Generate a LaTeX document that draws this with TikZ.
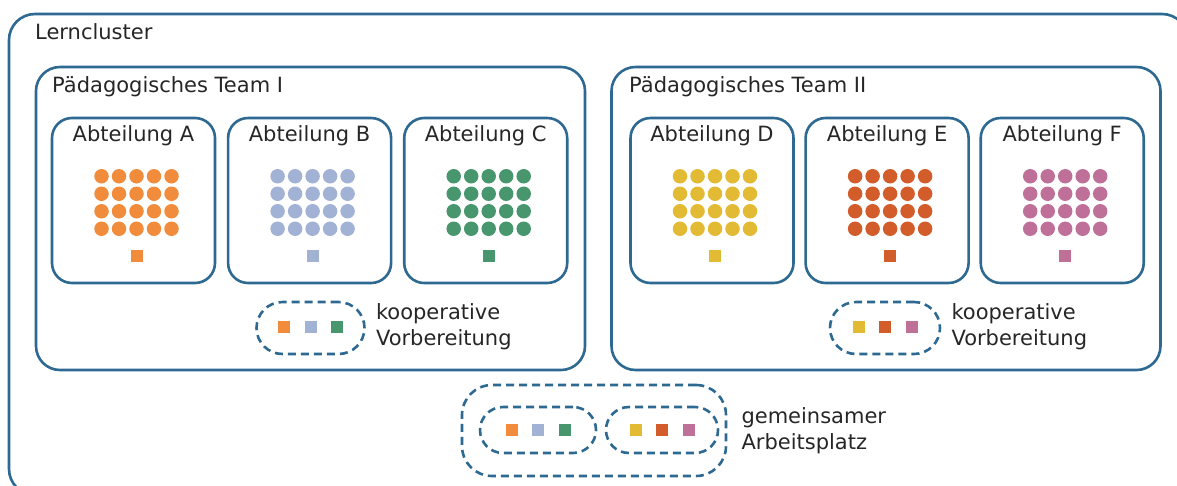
\documentclass[tikz,border=0pt]{standalone}
\usepackage{fontspec}
\setmainfont{DejaVu Sans}
\usetikzlibrary{positioning}
\definecolor{rahmen}{RGB}{45,105,145}
\definecolor{cA}{RGB}{240,140,60}
\definecolor{cB}{RGB}{162,178,212}
\definecolor{cC}{RGB}{72,150,110}
\definecolor{cD}{RGB}{226,186,52}
\definecolor{cE}{RGB}{210,92,42}
\definecolor{cF}{RGB}{190,112,152}

\begin{document}
\begin{tikzpicture}[x=1pt,y=-1pt,node distance=10.5pt,
  abt/.style={draw=rahmen,line width=2.6pt,rounded corners=20pt,minimum width=163pt,minimum height=165pt,inner sep=0pt},
  team/.style={draw=rahmen,line width=2.6pt,rounded corners=24pt,minimum width=549pt,minimum height=303pt,inner sep=0pt},
  pill/.style={draw=rahmen,line width=2.6pt,dash pattern=on 8pt off 5pt,rounded corners=#1,inner sep=0pt},
  kind/.style={circle,fill=#1,minimum size=14.5pt,inner sep=0pt},
  lehrer/.style={fill=#1,minimum size=12pt,inner sep=0pt},
  schrift/.style={font=\fontsize{21}{26}\selectfont,text=black!85,inner sep=0pt}]
  \useasboundingbox (0,0) rectangle (1177,485);
  \begin{scope}
  \clip (0,0) rectangle (1177,485);
  \node[draw=rahmen,line width=2.6pt,rounded corners=26pt,minimum width=1179pt,minimum height=481pt] (cl) at (598.5,254.5) {};
  \end{scope}
  \node[schrift,anchor=base west] (lc) at (35,39) {Lerncluster};

  \node[team] (t1) at (310.5,218.5) {};
  \node[team] (t2) at (886,218.5) {};
  \node[schrift,anchor=base west] (lt1) at (52,92) {Pädagogisches Team I};
  \node[schrift,anchor=base west] (lt2) at (629,92) {Pädagogisches Team II};

  \node[abt] (A) at (133.5,200.5) {};
  \node[abt] (B) [right=of A] {};
  \node[abt] (C) [right=of B] {};
  \node[abt] (D) at (712,200.5) {};
  \node[abt,right=9.5pt of D] (E) {};
  \node[abt,right=9.5pt of E] (F) {};

  \foreach \k/\f in {A/cA,B/cB,C/cC,D/cD,E/cE,F/cF} {
    \node[schrift,anchor=base] (n\k) at ([shift={(0,25)}]\k.north) {Abteilung \k};
    \foreach \i in {0,...,4}
      \foreach \j in {0,...,3}
        \node[kind=\f] (\k\i\j) at ([shift={(-32+17.5*\i,-24.25+17.5*\j)}]\k.center) {};
    \node[lehrer=\f] (l\k) at ([shift={(3,55.5)}]\k.center) {};
  }

  \node[pill=26pt,minimum width=108pt,minimum height=52pt] (k1) at (310.5,328) {};
  \node[pill=26pt,minimum width=110pt,minimum height=52pt] (k2) at (885,328) {};
  \foreach \p/\a/\b/\c in {k1/cA/cB/cC,k2/cD/cE/cF} {
    \node[lehrer=\a] (\p a) at ([shift={(-26.5,-1)}]\p.center) {};
    \node[lehrer=\b] (\p b) at ([shift={(0,-1)}]\p.center) {};
    \node[lehrer=\c] (\p c) at ([shift={(26.5,-1)}]\p.center) {};
    \node[schrift,align=left,anchor=west] (t\p) at ([shift={(10,-1)}]\p.east) {kooperative\\Vorbereitung};
  }

  \node[pill=30pt,minimum width=264pt,minimum height=91pt] (ga) at (594,430.5) {};
  \node[pill=23pt,minimum width=116pt,minimum height=46pt] (g1) at (538,430) {};
  \node[pill=23pt,minimum width=112pt,minimum height=46pt] (g2) at (662,430) {};
  \foreach \p/\a/\b/\c in {g1/cA/cB/cC,g2/cD/cE/cF} {
    \node[lehrer=\a] (\p a) at ([shift={(-26.5,0)}]\p.center) {};
    \node[lehrer=\b] (\p b) at ([shift={(0,0)}]\p.center) {};
    \node[lehrer=\c] (\p c) at ([shift={(26.5,0)}]\p.center) {};
  }
  \node[schrift,align=left,anchor=west] (tga) at ([shift={(14,0)}]ga.east) {gemeinsamer\\Arbeitsplatz};
\end{tikzpicture}
\end{document}
